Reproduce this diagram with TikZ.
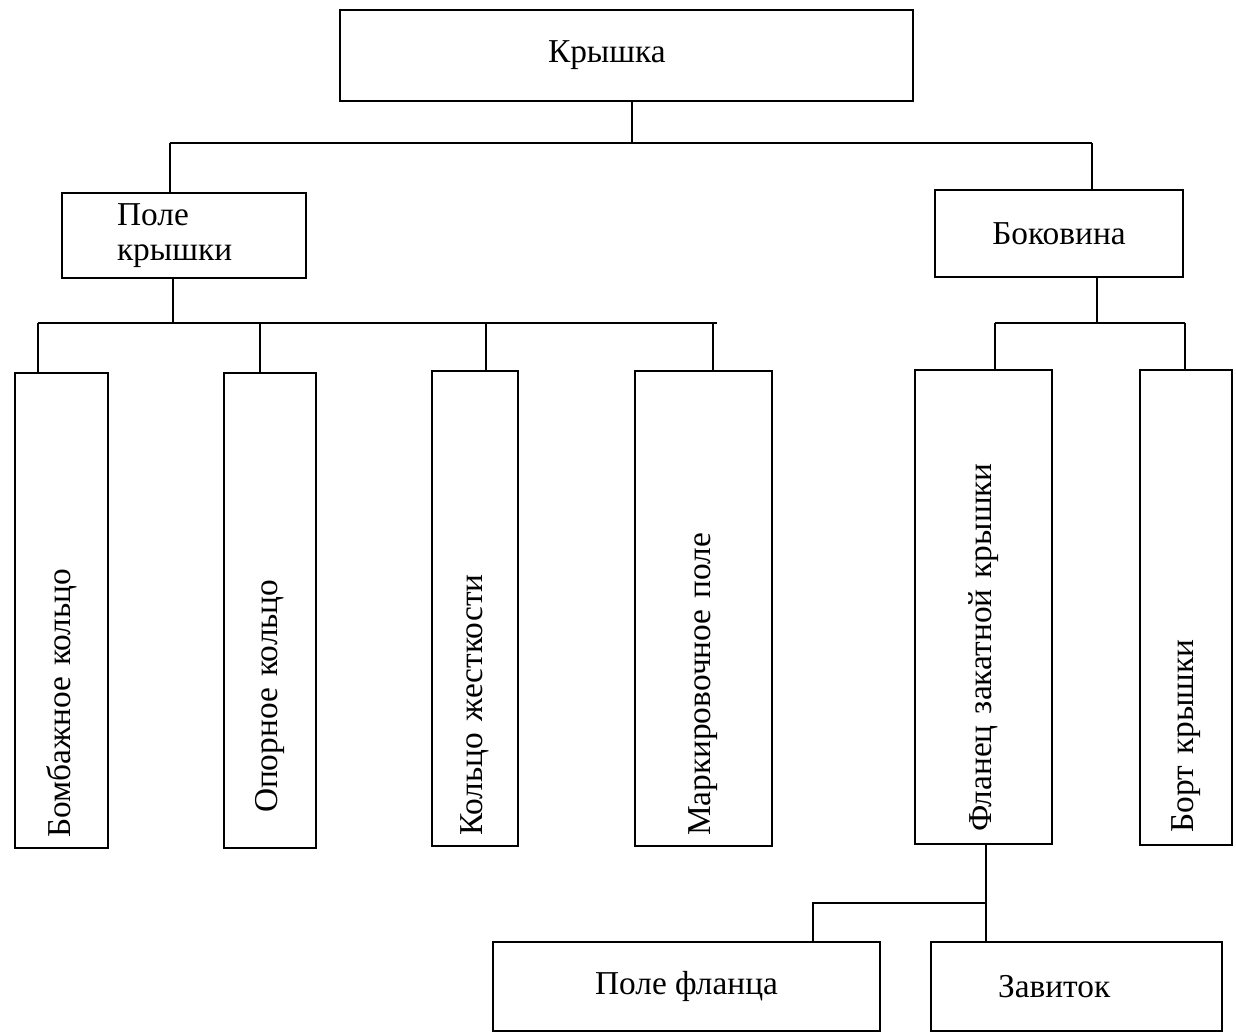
\documentclass[tikz,border=0pt]{standalone}
\usepackage{fontspec}
\setmainfont{Liberation Serif}
\usepackage{tikz}
\usetikzlibrary{positioning, calc}

\tikzset{
  box/.style={draw, line width=1.1pt, align=center, inner sep=0pt,
    font=\fontsize{19}{20}\selectfont},
  vbox/.style={draw, line width=1.1pt, rotate=90, align=left,
    minimum height=#1, text width=9.1cm, inner xsep=0.2cm, inner ysep=0pt,
    font=\fontsize{19}{20}\selectfont},
  link/.style={line width=0.9pt}
}

\begin{document}
\begin{tikzpicture}[x=0.02cm, y=-0.02cm]
  \useasboundingbox (0,0) rectangle (1236,1034);

  % Top level
  \node[box, minimum width=11.46cm, minimum height=1.82cm, align=left,
    text width=3.14cm, inner xsep=4.16cm] (kr) at (626.5,55.5) {Крышка};

  % Second level
  \node[box, minimum width=4.88cm, minimum height=1.7cm, align=left,
    text width=2.68cm, inner xsep=1.1cm] (pk) at (184,235.5) {Поле\\крышки};
  \node[box, minimum width=4.96cm, minimum height=1.74cm] (bk) at (1059,233.5) {Боковина};

  % Parts of the lid field
  \node[vbox=1.86cm] (b1) at (61.5,610.5) {Бомбажное кольцо};
  \node[vbox=1.84cm, text width=8.1cm, inner xsep=0.7cm] (b2) at (270,610.5) {Опорное кольцо};
  \node[vbox=1.72cm] (b3) at (475,608.5) {Кольцо жесткости};
  \node[vbox=2.74cm] (b4) at (703.5,608.5) {Маркировочное поле};

  % Parts of the side
  \node[vbox=2.74cm, text width=9.0cm, inner xsep=0.25cm] (b5) at (983.5,607) {Фланец закатной крышки};
  \node[vbox=1.84cm, text width=9.0cm, inner xsep=0.25cm] (b6) at (1186,607.5) {Борт крышки};

  % Parts of the flange
  \node[box, minimum width=7.74cm, minimum height=1.78cm] (pf) at (686.5,986.5) {Поле фланца};
  \node[box, minimum width=5.82cm, minimum height=1.78cm, align=left,
    text width=3.14cm, inner xsep=1.34cm] (zv) at (1076.5,986.5) {Завиток};

  % Junction points
  \coordinate (t0) at (632,143);
  \coordinate (tl) at (170,143);
  \coordinate (tr) at (1092,143);
  \coordinate (p0) at (173,323);
  \coordinate (pl) at (38,323);
  \coordinate (pr) at (717,323);
  \coordinate (s0) at (1097,323);
  \coordinate (sl) at (995,323);
  \coordinate (sr) at (1185,323);
  \coordinate (f0) at (986,903);
  \coordinate (fl) at (813,903);

  % Connectors
  \draw[link] (kr.south -| t0) -- (t0);
  \draw[link] (tl) -- (tr);
  \draw[link] (tl) -- (tl |- pk.north);
  \draw[link] (tr) -- (tr |- bk.north);

  \draw[link] (pk.south -| p0) -- (p0);
  \draw[link] (pl) -- (pr);
  \foreach \x/\b in {38/b1, 260/b2, 486/b3, 713/b4} {
    \coordinate (c\b) at (\x,323);
    \draw[link] (c\b) -- (c\b |- \b.east);
  }

  \draw[link] (bk.south -| s0) -- (s0);
  \draw[link] (sl) -- (sr);
  \draw[link] (sl) -- (sl |- b5.east);
  \draw[link] (sr) -- (sr |- b6.east);

  \draw[link] (b5.west -| f0) -- (f0 |- zv.north);
  \draw[link] (f0) -- (fl) -- (fl |- pf.north);
\end{tikzpicture}
\end{document}
